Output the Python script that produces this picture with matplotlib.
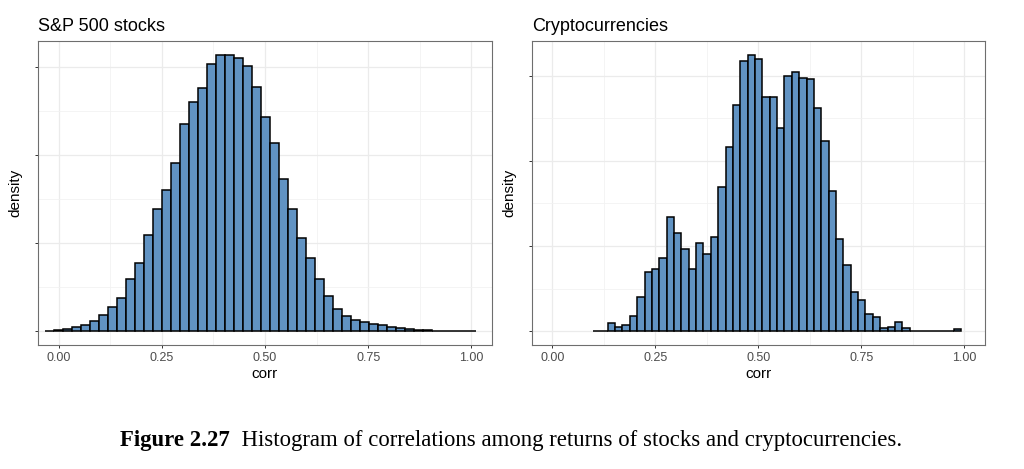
import numpy as np
import matplotlib.pyplot as plt
from matplotlib.ticker import MultipleLocator, NullFormatter

# histogram data (density)
sp_start = -0.0331
sp_width = 0.02178
sp_density = [0.005, 0.011, 0.023, 0.042, 0.068, 0.113, 0.181, 0.272, 0.374, 0.597,
              0.775, 1.092, 1.390, 1.605, 1.907, 2.352, 2.605, 2.768, 3.032, 3.142,
              3.142, 3.108, 3.012, 2.775, 2.435, 2.140, 1.726, 1.390, 1.058, 0.831,
              0.593, 0.396, 0.254, 0.170, 0.125, 0.110, 0.087, 0.065, 0.050, 0.039,
              0.027, 0.019, 0.011, 0.005, 0.003, 0.002, 0.001, 0.001]

cr_start = 0.0987
cr_width = 0.01787
cr_density = [0.008, 0.008, 0.098, 0.051, 0.067, 0.183, 0.402, 0.689, 0.729, 0.861,
              1.336, 1.150, 0.963, 0.729, 1.033, 0.908, 1.110, 1.694, 2.161, 2.657,
              3.174, 3.244, 3.194, 2.753, 2.753, 2.383, 2.991, 3.037, 2.975, 2.960,
              2.621, 2.231, 1.644, 1.083, 0.779, 0.456, 0.370, 0.203, 0.172, 0.032,
              0.051, 0.102, 0.032, 0.0, 0.0, 0.0, 0.0, 0.0, 0.0, 0.020]

titles = ["S&P 500 stocks", "Cryptocurrencies"]
xticks = [0.0, 0.25, 0.5, 0.75, 1.0]
xticklabels = ["0.00", "0.25", "0.50", "0.75", "1.00"]

plt.rcParams['font.family'] = ['Liberation Sans', 'DejaVu Sans']

fig = plt.figure(figsize=(10.24, 4.69), dpi=100)
ax1 = fig.add_axes([38/1024, 1-345/469, 454/1024, 304/469])
ax2 = fig.add_axes([531.7/1024, 1-345/469, 453.3/1024, 304/469])

fill = '#6193c3'

for ax, start, width, dens, title in [(ax1, sp_start, sp_width, sp_density, titles[0]),
                                      (ax2, cr_start, cr_width, cr_density, titles[1])]:
    dens = np.array(dens)
    left = start + width*np.arange(len(dens))
    ax.bar(left, dens, width=width, align='edge', color=fill,
           edgecolor='black', linewidth=1.1, zorder=3)
    top = dens.max()
    ax.set_xlim(-0.05, 1.05)
    ax.set_ylim(-0.05*top, 1.05*top)
    ax.set_xticks(xticks)
    ax.set_xticklabels(xticklabels)
    ax.xaxis.set_minor_locator(MultipleLocator(0.125))
    ax.yaxis.set_major_locator(MultipleLocator(1))
    ax.yaxis.set_minor_locator(MultipleLocator(0.5))
    ax.yaxis.set_major_formatter(NullFormatter())
    ax.grid(which='major', color='#ebebeb', linewidth=0.9, zorder=0)
    ax.grid(which='minor', color='#f2f2f2', linewidth=0.6, zorder=0)
    ax.set_axisbelow(True)
    ax.tick_params(which='major', length=2.5, width=0.7, color='#333333',
                   labelsize=9, labelcolor='#4d4d4d', pad=2.5)
    ax.tick_params(which='minor', length=0)
    for s in ax.spines.values():
        s.set_color('#6e6e6e')
        s.set_linewidth(0.8)
    ax.set_xlabel('corr', fontsize=11, labelpad=2)
    ax.set_ylabel('density', fontsize=11, labelpad=6)
    ax.set_title(title, loc='left', fontsize=13, pad=7)

# caption
fig.canvas.draw()
r = fig.canvas.get_renderer()
cap_font = ['Liberation Serif', 'DejaVu Serif']
t1 = fig.text(0, 23/469, "Figure 2.27", fontsize=16.4, fontweight='bold', family=cap_font)
t2 = fig.text(0, 23/469, "  Histogram of correlations among returns of stocks and cryptocurrencies.",
              fontsize=16.4, family=cap_font)
w1 = t1.get_window_extent(r).width
w2 = t2.get_window_extent(r).width
x0 = 511 - (w1 + w2)/2
t1.set_x(x0/1024)
t2.set_x((x0 + w1)/1024)

plt.savefig('out.png', dpi=100)
